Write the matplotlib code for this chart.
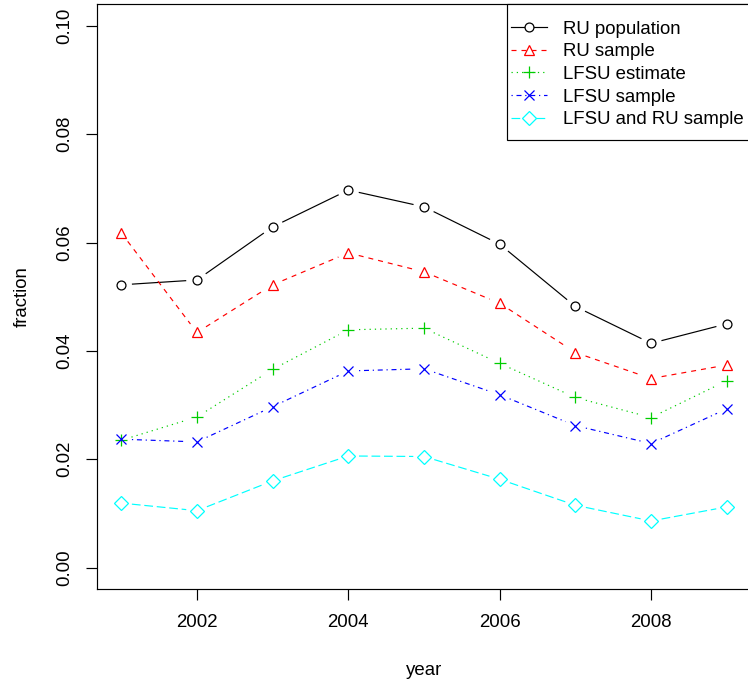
import numpy as np
import matplotlib
matplotlib.use("Agg")
import matplotlib.pyplot as plt
from matplotlib.lines import Line2D
from matplotlib.path import Path

plt.rcParams['font.family'] = ['Liberation Sans', 'DejaVu Sans']
plt.rcParams['lines.scale_dashes'] = False

years = [2001, 2002, 2003, 2004, 2005, 2006, 2007, 2008, 2009]
ru_population = [0.0522, 0.0531, 0.0629, 0.0697, 0.0666, 0.0597, 0.0482, 0.0414, 0.0450]
ru_sample = [0.0618, 0.0434, 0.0522, 0.0581, 0.0546, 0.0488, 0.0397, 0.0349, 0.0374]
lfsu_estimate = [0.0235, 0.0278, 0.0366, 0.0439, 0.0442, 0.0377, 0.0314, 0.0277, 0.0345]
lfsu_sample = [0.0237, 0.0232, 0.0297, 0.0363, 0.0367, 0.0319, 0.0262, 0.0229, 0.0293]
lfsu_ru_sample = [0.0119, 0.0105, 0.0160, 0.0206, 0.0205, 0.0163, 0.0115, 0.0086, 0.0112]

series_labels = ["RU population", "RU sample", "LFSU estimate", "LFSU sample", "LFSU and RU sample"]
xticks = [2002, 2004, 2006, 2008]
yticks = [0.00, 0.02, 0.04, 0.06, 0.08, 0.10]
ytick_labels = ["0.00", "0.02", "0.04", "0.06", "0.08", "0.10"]

series = [ru_population, ru_sample, lfsu_estimate, lfsu_sample, lfsu_ru_sample]
colors = ['black', '#FF0000', '#00CD00', '#0000FF', '#00FFFF']
markers = ['o', '^', '+', 'x', 'D']
msizes = [6.4, 7.6, 9.0, 7.0, 7.0]
dashes = ['-', (0, (3.6, 3.6)), (0, (0.9, 2.9)), (0, (0.9, 2.7, 3.6, 2.7)), (0, (6.3, 2.7))]

W, H = 748, 680
fig = plt.figure(figsize=(W / 100, H / 100), dpi=100)
left, right, top, bottom = 97, 751, 4.3, 589.2
ax = fig.add_axes([left / W, 1 - bottom / H, (right - left) / W, (bottom - top) / H])
ax.set_xlim(2000.68, 2009.32)
ax.set_ylim(-0.004, 0.104)

lw = 0.85
gap = 10.7  # px gap around points (type="b")
fig.canvas.draw()
inv = ax.transData.inverted()
for vals, c, m, ls, ms in zip(series, colors, markers, dashes, msizes):
    pts = ax.transData.transform(np.column_stack([years, vals]))
    for a, b in zip(pts[:-1], pts[1:]):
        d = b - a
        L = np.hypot(*d)
        if L > 2 * gap:
            u = d / L
            p = inv.transform(np.array([a + u * gap, b - u * gap]))
            ax.plot(p[:, 0], p[:, 1], color=c, lw=lw, linestyle=ls, solid_capstyle='butt',
                    dash_capstyle='butt')
    ax.plot(years, vals, linestyle='none', marker=m, markersize=ms, markerfacecolor='none',
            markeredgecolor=c, markeredgewidth=0.9)

# legend (R-style box: small horizontal padding, larger vertical padding)
EXTRA_TOP = 12.2
EXTRA_BOT = 7.9
EXTRA_R = 12


def frame_style(x0, y0, width, height, mutation_size):
    x1 = x0 + width + EXTRA_R
    y1 = y0 + height + EXTRA_TOP
    y0 = y0 - EXTRA_BOT
    return Path([(x0, y0), (x1, y0), (x1, y1), (x0, y1), (x0, y0)], closed=True)


handles = [Line2D([], [], color=c, lw=lw, linestyle=ls, marker=m, markersize=ms,
                  markerfacecolor='white', markeredgecolor=c, markeredgewidth=0.9)
           for c, m, ls, ms in zip(colors, markers, dashes, msizes)]
leg = ax.legend(handles, series_labels, loc='upper left',
                bbox_to_anchor=(506.7 / W, 1 - (top + EXTRA_TOP) / H),
                bbox_transform=fig.transFigure, borderaxespad=0, fancybox=False,
                fontsize=13.4, handlelength=1.94, handletextpad=0.86, labelspacing=0.306,
                borderpad=0.215, framealpha=1)
frame = leg.get_frame()
frame.set_boxstyle(frame_style)
frame.set_edgecolor('black')
frame.set_linewidth(0.85)

ax.set_xticks(xticks)
ax.set_xticklabels([str(x) for x in xticks])
ax.set_yticks(yticks)
ax.set_yticklabels(ytick_labels, rotation=90, va='center')
ax.tick_params(axis='both', length=8, width=0.85, labelsize=13.4)
ax.tick_params(axis='x', pad=10)
ax.tick_params(axis='y', pad=9)
for s in ax.spines.values():
    s.set_linewidth(0.85)

ax.set_xlabel('year', fontsize=13.4, labelpad=22)
ax.set_ylabel('fraction', fontsize=13.4, labelpad=18.4)

fig.savefig('out.png', dpi=100)
